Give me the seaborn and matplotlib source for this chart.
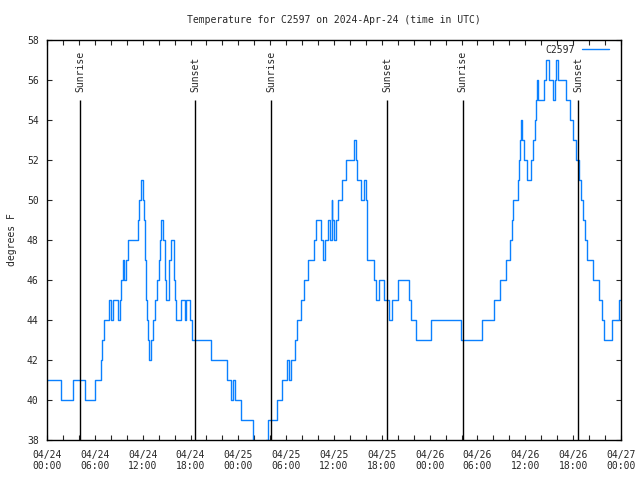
import seaborn as sns
import pandas as pd
import matplotlib
matplotlib.use("Agg")
import matplotlib.pyplot as plt
from matplotlib.ticker import MultipleLocator

# hours since 2024-04-24 00:00 UTC, temperature (F) from that moment on
hours = [0.0, 1.75, 3.26, 4.77, 6.02, 6.77, 6.96, 7.21, 7.78, 8.03, 8.28, 8.91,
         9.16, 9.28, 9.53, 9.72, 9.85, 10.10, 11.42, 11.60, 11.79, 12.04, 12.17,
         12.29, 12.42, 12.54, 12.67, 12.79, 13.05, 13.30, 13.55, 13.80, 13.99,
         14.17, 14.30, 14.55, 14.74, 14.93, 15.30, 15.55, 15.87, 16.06, 16.24,
         16.87, 17.25, 17.44, 17.88, 18.19, 20.57, 22.58, 23.08, 23.27, 23.52,
         24.34, 25.90, 27.41, 27.72, 28.91, 29.48, 30.11, 30.36, 30.61, 31.17,
         31.36, 31.92, 32.24, 32.68, 33.43, 33.68, 34.37, 34.56, 34.87, 35.25,
         35.44, 35.69, 35.81, 35.94, 36.25, 36.50, 37.01, 37.51, 38.57, 38.76,
         38.89, 39.39, 39.76, 40.02, 40.08, 40.20, 41.02, 41.21, 41.65, 42.27,
         42.96, 43.28, 44.03, 45.35, 45.66, 46.29, 48.11, 51.87, 54.57, 56.13,
         56.82, 57.58, 58.08, 58.27, 58.46, 59.08, 59.21, 59.33, 59.46, 59.58,
         59.84, 60.15, 60.65, 60.96, 61.21, 61.34, 61.47, 61.59, 62.28, 62.59,
         62.97, 63.41, 63.72, 63.85, 64.10, 65.10, 65.61, 66.04, 66.30, 66.67,
         66.92, 67.24, 67.49, 67.74, 68.43, 69.30, 69.62, 69.93, 70.93, 71.69,
         72.0]
temps = [41, 40, 41, 40, 41, 42, 43, 44, 45, 44, 45, 44,
         45, 46, 47, 46, 47, 48, 49, 50, 51, 50, 49,
         47, 45, 44, 43, 42, 43, 44, 45, 46, 47,
         48, 49, 48, 46, 45, 47, 48, 46, 45, 44,
         45, 44, 45, 44, 43, 42, 41, 40, 41, 40,
         39, 37, 38, 39, 40, 41, 42, 41, 42, 43,
         44, 45, 46, 47, 48, 49, 48, 47, 48, 49,
         48, 50, 49, 48, 49, 50, 51, 52, 53, 52,
         51, 50, 51, 50, 48, 47, 46, 45, 46, 45,
         44, 45, 46, 45, 44, 43, 44, 43, 44, 45,
         46, 47, 48, 49, 50, 51, 52, 53, 54, 53,
         52, 51, 52, 53, 54, 55, 56, 55, 56, 57,
         56, 55, 56, 57, 56, 55, 54, 53, 52, 51,
         50, 49, 48, 47, 46, 45, 44, 43, 44, 45,
         45]

sunrise = [4.13, 28.12, 52.15]
sunset = [18.58, 42.65, 66.62]

tick_hours = [0, 6, 12, 18, 24, 30, 36, 42, 48, 54, 60, 66, 72]
tick_labels = ["04/24\n00:00", "04/24\n06:00", "04/24\n12:00", "04/24\n18:00",
               "04/25\n00:00", "04/25\n06:00", "04/25\n12:00", "04/25\n18:00",
               "04/26\n00:00", "04/26\n06:00", "04/26\n12:00", "04/26\n18:00",
               "04/27\n00:00"]

df = pd.DataFrame({"hours": hours, "C2597": temps})

sns.set_style("ticks")
plt.rcParams["font.family"] = ["DejaVu Sans Mono"]
plt.rcParams["font.size"] = 7

fig = plt.figure(figsize=(6.4, 4.8), dpi=100)
ax = fig.add_axes([47 / 640, 40 / 480, 574 / 640, 400 / 480])

sns.lineplot(data=df, x="hours", y="C2597", ax=ax, estimator=None,
             drawstyle="steps-post", color="#0a80ff", linewidth=1,
             label="C2597")

# sun event markers
for t in sunrise:
    ax.vlines(t, 38, 55, color="black", linewidth=1)
    ax.text(t, 55.4, "Sunrise", rotation=90, ha="center", va="bottom", fontsize=7)
for t in sunset:
    ax.vlines(t, 38, 55, color="black", linewidth=1)
    ax.text(t, 55.4, "Sunset", rotation=90, ha="center", va="bottom", fontsize=7)

ax.set_xlim(0, 72)
ax.set_ylim(38, 58)
ax.set_xticks(tick_hours)
ax.set_xticklabels(tick_labels)
ax.xaxis.set_minor_locator(MultipleLocator(2))
ax.set_yticks(range(38, 59, 2))
ax.tick_params(axis="both", which="both", direction="in", top=True, right=True,
               length=3.5, width=0.8, labelsize=7)
ax.tick_params(axis="x", which="major", pad=7)
ax.tick_params(axis="y", which="major", pad=6)
for s in ax.spines.values():
    s.set_linewidth(1)
    s.set_color("black")

ax.set_xlabel("")
ax.set_ylabel("degrees F", fontsize=7, labelpad=7)
ax.set_title("Temperature for C2597 on 2024-Apr-24 (time in UTC)", fontsize=7, pad=12.5)

ax.legend(loc="upper right", bbox_to_anchor=(0.988, 1.0), frameon=False,
          fontsize=7, markerfirst=False, handlelength=2.8, borderaxespad=0.1,
          handletextpad=0.7)

fig.savefig("out.png", dpi=100)
